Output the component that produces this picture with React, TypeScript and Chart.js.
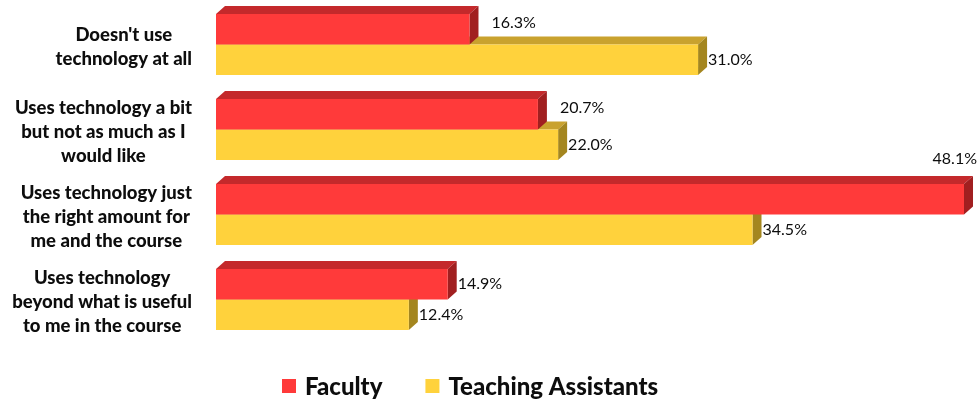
import React, { useEffect, useRef } from "react";
import { Chart, registerables } from "chart.js";

Chart.register(...registerables);

const categories: string[][] = [
  ["Doesn't use", "technology at all"],
  ["Uses technology a bit", "but not as much as I", "would like"],
  ["Uses technology just", "the right amount for", "me and the course"],
  ["Uses technology", "beyond what is useful", "to me in the course"],
];
const seriesNames = ["Faculty", "Teaching Assistants"];
const facultyValues = [16.3, 20.7, 48.1, 14.9];
const taValues = [31.0, 22.0, 34.5, 12.4];

const FRONT = ["#FF3A3A", "#FFD23C"];
const TOP = ["#C4292B", "#C9A22E"];
const SIDE = ["#A11F20", "#A4861F"];
const DX = 9;
const DY = 8;
const CAT_FONT = "900 18.5px Lato";
const VAL_FONT = "16px Lato";
const LEG_FONT = "900 24px Lato";
const TEXT = "#0d0d0d";

const threeD = {
  id: "threeD",
  beforeDatasetDraw(chart: any, args: any) {
    const ctx = chart.ctx;
    const i = args.index;
    args.meta.data.forEach((bar: any) => {
      const { x, y, base, height } = bar.getProps(["x", "y", "base", "height"], true);
      const top = y - height / 2;
      const bottom = y + height / 2;
      ctx.save();
      ctx.fillStyle = TOP[i];
      ctx.beginPath();
      ctx.moveTo(base, top);
      ctx.lineTo(base + DX, top - DY);
      ctx.lineTo(x + DX, top - DY);
      ctx.lineTo(x, top);
      ctx.closePath();
      ctx.fill();
      ctx.fillStyle = SIDE[i];
      ctx.beginPath();
      ctx.moveTo(x, top);
      ctx.lineTo(x + DX, top - DY);
      ctx.lineTo(x + DX, bottom - DY);
      ctx.lineTo(x, bottom);
      ctx.closePath();
      ctx.fill();
      ctx.restore();
    });
  },
};

const labelsPlugin = {
  id: "labelsPlugin",
  afterDatasetsDraw(chart: any) {
    const ctx = chart.ctx;
    const area = chart.chartArea;
    ctx.save();
    // value labels
    ctx.font = VAL_FONT;
    ctx.fillStyle = TEXT;
    ctx.textBaseline = "middle";
    chart.data.datasets.forEach((ds: any, di: number) => {
      const meta = chart.getDatasetMeta(di);
      meta.data.forEach((bar: any, bi: number) => {
        const { x, y, height } = bar.getProps(["x", "y", "height"], true);
        const text = Number(ds.data[bi]).toFixed(1) + "%";
        const w = ctx.measureText(text).width;
        let tx = x + DX + 1;
        let ty = y;
        ctx.textAlign = "left";
        if (tx + w > area.right) {
          ctx.textAlign = "right";
          tx = area.right - 1;
          ty = y - height / 2 - DY - 17;
        } else {
          const next = chart.data.datasets[di + 1];
          if (next && Number(next.data[bi]) > Number(ds.data[bi])) {
            tx += 12;
            ty -= 6;
          }
        }
        ctx.fillText(text, tx, ty);
      });
    });
    // category labels
    ctx.font = CAT_FONT;
    ctx.textAlign = "center";
    const yScale = chart.scales.y;
    const rightEdge = area.left - 24;
    const lh = 24;
    categories.forEach((lines, ci) => {
      const cy = yScale.getPixelForValue(ci) + 3;
      const bw = Math.max(...lines.map((l) => ctx.measureText(l).width));
      const cx = rightEdge - bw / 2;
      lines.forEach((l, li) => {
        ctx.fillText(l, cx, cy + (li - (lines.length - 1) / 2) * lh);
      });
    });
    // legend
    ctx.font = LEG_FONT;
    ctx.textAlign = "left";
    let lx = 282;
    const ly = 386;
    seriesNames.forEach((name, i) => {
      ctx.fillStyle = FRONT[i];
      ctx.fillRect(lx, ly - 7, 14, 14);
      lx += 14 + 9;
      ctx.fillStyle = TEXT;
      ctx.fillText(name, lx, ly + 1);
      lx += ctx.measureText(name).width + 43;
    });
    ctx.restore();
  },
};

export default function App() {
  const ref = useRef<HTMLCanvasElement>(null);
  useEffect(() => {
    if (!ref.current) return;
    const chart = new Chart(ref.current, {
      type: "bar",
      data: {
        labels: categories.map((c) => c.join(" ")),
        datasets: [
          { label: seriesNames[0], data: facultyValues, backgroundColor: FRONT[0], borderWidth: 0 },
          { label: seriesNames[1], data: taValues, backgroundColor: FRONT[1], borderWidth: 0 },
        ],
      },
      options: {
        indexAxis: "y",
        animation: false,
        responsive: false,
        maintainAspectRatio: false,
        layout: { padding: { left: 216, right: 1, top: 2, bottom: 62 } },
        scales: {
          x: { display: false, min: 0, max: 49 },
          y: { display: false },
        },
        datasets: { bar: { categoryPercentage: 0.718, barPercentage: 1 } },
        plugins: { legend: { display: false }, tooltip: { enabled: false } },
      } as any,
      plugins: [threeD, labelsPlugin],
    });
    return () => chart.destroy();
  }, []);
  return (
    <div style={{ position: "absolute", left: 0, top: 0, width: 979, height: 404, background: "#fff" }}>
      <canvas ref={ref} width={979} height={404} />
    </div>
  );
}
